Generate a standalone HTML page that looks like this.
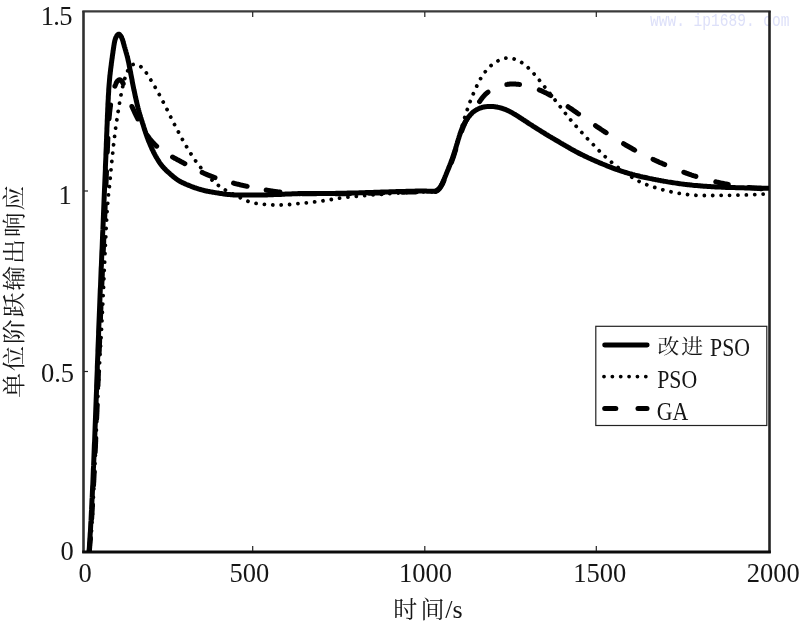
<!DOCTYPE html>
<html lang="zh">
<head>
<meta charset="utf-8">
<title>单位阶跃输出响应</title>
<style>
html,body{margin:0;padding:0;background:#fff;}
body{width:800px;height:623px;overflow:hidden;}
svg{display:block;}
text{font-family:"Liberation Serif","Noto Serif CJK SC",serif;fill:#161616;}
.cjk{font-family:"Liberation Serif","Noto Serif CJK SC",serif;font-weight:400;}
.wm{font-family:"Liberation Mono","Noto Sans CJK SC",monospace;fill:#dde0f9;}
</style>
</head>
<body>
<svg width="800" height="623" viewBox="0 0 800 623">
<rect x="0" y="0" width="800" height="623" fill="#ffffff"/>
<!-- watermark -->
<text class="wm" x="650" y="26.3" font-size="18.5" textLength="139.5" lengthAdjust="spacingAndGlyphs" xml:space="preserve">www. ip1689. com</text>
<!-- axes box -->
<g fill="none" stroke-linecap="butt">
<line x1="82.3" y1="11.4" x2="770.7" y2="11.4" stroke="#3a3a3a" stroke-width="2.4"/>
<line x1="83.5" y1="11" x2="83.5" y2="553" stroke="#303030" stroke-width="2.6"/>
<line x1="769.5" y1="11" x2="769.5" y2="553" stroke="#222" stroke-width="2.6"/>
<line x1="82.2" y1="552.1" x2="770.8" y2="552.1" stroke="#0c0c0c" stroke-width="3"/>
</g>
<!-- ticks -->
<g stroke="#222" stroke-width="1.2" fill="none">
<line x1="252.7" y1="546" x2="252.7" y2="551"/>
<line x1="424.8" y1="546" x2="424.8" y2="551"/>
<line x1="596.3" y1="546" x2="596.3" y2="551"/>
<line x1="252.7" y1="12" x2="252.7" y2="17"/>
<line x1="424.8" y1="12" x2="424.8" y2="17"/>
<line x1="596.3" y1="12" x2="596.3" y2="17"/>
<line x1="84" y1="191" x2="88" y2="191"/>
<line x1="84" y1="371.5" x2="88" y2="371.5"/>
</g>
<!-- tick labels -->
<g font-size="26.5">
<text x="72" y="25" text-anchor="end" letter-spacing="-0.6">1.5</text>
<text x="71.8" y="203.6" text-anchor="end">1</text>
<text x="74" y="381.5" text-anchor="end">0.5</text>
<text x="73.8" y="560.2" text-anchor="end">0</text>
<text x="85" y="582.2" text-anchor="middle">0</text>
<text x="249.4" y="582.2" text-anchor="middle">500</text>
<text x="425.6" y="582.2" text-anchor="middle">1000</text>
<text x="599.8" y="582.2" text-anchor="middle">1500</text>
<text x="773.2" y="582.4" text-anchor="middle">2000</text>
</g>
<!-- axis titles -->
<text class="cjk" x="393.2" y="618" font-size="24" letter-spacing="3.3">时间<tspan font-family="Liberation Serif" font-size="26" letter-spacing="0" dx="-2.6">/s</tspan></text>
<text class="cjk" transform="translate(21.9,397.8) rotate(-90) scale(1.04,0.945)" font-size="24" letter-spacing="1.75">单位阶跃输出响应</text>
<!-- curves -->
<clipPath id="plotclip"><rect x="84" y="12" width="685" height="539.5"/></clipPath>
<g fill="none" stroke="#000" stroke-linejoin="round" clip-path="url(#plotclip)">
<path d="M89.5,553.0 L89.7,551.6 L89.8,550.1 L90.0,548.6 L90.1,547.1 L90.3,545.5 L90.4,543.8 L90.6,542.1 L90.7,540.4 L90.9,538.6 L91.0,536.8 L91.2,534.9 L91.3,533.0 L91.5,531.1 L91.6,529.1 L91.7,527.1 L91.9,525.1 L92.0,523.0 L92.1,520.9 L92.3,518.7 L92.4,516.6 L92.5,514.3 L92.7,512.1 L92.8,509.8 L92.9,507.6 L93.0,505.2 L93.2,502.9 L93.3,500.5 L93.4,498.1 L93.5,495.7 L93.6,493.3 L93.8,490.9 L93.9,488.4 L94.0,485.9 L94.1,483.4 L94.2,480.9 L94.3,478.4 L94.5,475.8 L94.6,473.3 L94.7,470.7 L94.8,468.2 L94.9,465.6 L95.0,463.0 L95.1,460.4 L95.2,457.8 L95.4,455.2 L95.5,452.6 L95.6,450.0 L95.7,447.4 L95.8,444.8 L95.9,442.2 L96.0,439.5 L96.1,436.9 L96.2,434.3 L96.3,431.8 L96.4,429.2 L96.6,426.6 L96.7,424.0 L96.8,421.5 L96.9,418.9 L97.0,416.4 L97.1,413.9 L97.2,411.4 L97.3,408.9 L97.4,406.4 L97.5,403.9 L97.7,401.5 L97.8,399.1 L97.9,396.7 L98.0,394.3 L98.1,391.9 L98.2,389.6 L98.3,387.3 L98.5,385.0 L98.6,382.7 L98.7,380.5 L98.8,378.3 L98.9,376.0 L99.0,373.8 L99.2,371.6 L99.3,369.5 L99.4,367.3 L99.5,365.1 L99.6,363.0 L99.8,360.8 L99.9,358.7 L100.0,356.5 L100.1,354.3 L100.2,352.2 L100.4,350.0 L100.5,347.8 L100.6,345.6 L100.7,343.4 L100.9,341.2 L101.0,339.0 L101.1,336.7 L101.2,334.5 L101.4,332.2 L101.5,329.9 L101.6,327.5 L101.7,325.2 L101.9,322.8 L102.0,320.4 L102.1,317.9 L102.2,315.4 L102.4,312.9 L102.5,310.4 L102.6,307.8 L102.7,305.1 L102.9,302.5 L103.0,299.8 L103.1,297.0 L103.2,294.3 L103.4,291.5 L103.5,288.7 L103.6,285.9 L103.7,283.1 L103.8,280.3 L104.0,277.5 L104.1,274.7 L104.2,271.8 L104.3,269.0 L104.5,266.2 L104.6,263.4 L104.7,260.6 L104.8,257.9 L104.9,255.1 L105.1,252.4 L105.2,249.7 L105.3,247.0 L105.4,244.4 L105.5,241.8 L105.7,239.2 L105.8,236.7 L105.9,234.3 L106.0,231.8 L106.1,229.5 L106.2,227.2 L106.3,224.9 L106.5,222.7 L106.6,220.6 L106.7,218.5 L106.8,216.5 L106.9,214.6 L107.0,212.8 L107.1,211.0 L107.2,209.4 L107.4,207.8 L107.5,206.3 L107.6,204.8 L107.7,203.5 L107.8,202.1 L107.9,200.9 L108.0,199.7 L108.1,198.5 L108.2,197.3 L108.3,196.2 L108.4,195.1 L108.5,194.1 L108.7,193.0 L108.8,192.0 L108.9,190.9 L109.0,189.8 L109.1,188.7 L109.2,187.6 L109.4,186.5 L109.5,185.4 L109.6,184.2 L109.7,183.0 L109.8,181.7 L110.0,180.5 L110.1,179.2 L110.2,177.9 L110.4,176.6 L110.5,175.3 L110.6,173.9 L110.8,172.6 L110.9,171.2 L111.0,169.8 L111.2,168.5 L111.3,167.1 L111.4,165.7 L111.6,164.3 L111.7,162.9 L111.8,161.5 L112.0,160.2 L112.1,158.8 L112.3,157.4 L112.4,156.1 L112.5,154.7 L112.7,153.4 L112.8,152.0 L113.0,150.7 L113.1,149.3 L113.2,148.0 L113.4,146.6 L113.5,145.2 L113.7,143.9 L113.8,142.5 L114.0,141.1 L114.2,139.7 L114.3,138.3 L114.5,136.9 L114.7,135.5 L114.9,134.1 L115.1,132.6 L115.2,131.2 L115.4,129.7 L115.6,128.2 L115.9,126.7 L116.1,125.2 L116.3,123.7 L116.5,122.1 L116.7,120.6 L117.0,119.0 L117.2,117.5 L117.4,115.9 L117.7,114.4 L117.9,112.8 L118.2,111.3 L118.4,109.8 L118.7,108.2 L118.9,106.7 L119.2,105.2 L119.4,103.8 L119.7,102.3 L119.9,100.9 L120.2,99.5 L120.4,98.1 L120.7,96.7 L120.9,95.4 L121.2,94.1 L121.4,92.8 L121.7,91.6 L121.9,90.3 L122.2,89.2 L122.4,88.0 L122.7,86.8 L122.9,85.7 L123.2,84.6 L123.5,83.5 L123.7,82.4 L124.0,81.4 L124.3,80.3 L124.6,79.3 L124.9,78.3 L125.2,77.2 L125.6,76.2 L125.9,75.2 L126.3,74.2 L126.7,73.2 L127.1,72.2 L127.5,71.2 L127.9,70.3 L128.3,69.4 L128.8,68.5 L129.3,67.7 L129.8,67.0 L130.4,66.3 L130.9,65.8 L131.5,65.3 L132.2,64.9 L132.8,64.6 L133.5,64.4 L134.3,64.3 L135.0,64.3 L135.8,64.4 L136.6,64.5 L137.3,64.8 L138.1,65.1 L138.9,65.5 L139.6,65.9 L140.4,66.3 L141.0,66.8 L141.7,67.3 L142.3,67.9 L142.9,68.4 L143.4,69.0 L143.9,69.5 L144.4,70.1 L144.8,70.7 L145.3,71.2 L145.7,71.8 L146.1,72.4 L146.4,73.0 L146.8,73.6 L147.2,74.3 L147.6,74.9 L148.0,75.5 L148.4,76.1 L148.7,76.7 L149.1,77.3 L149.5,78.0 L149.9,78.6 L150.3,79.2 L150.7,79.8 L151.1,80.5 L151.5,81.1 L151.9,81.8 L152.3,82.4 L152.7,83.0 L153.1,83.7 L153.5,84.3 L153.8,85.0 L154.2,85.6 L154.6,86.2 L155.0,86.9 L155.3,87.5 L155.7,88.1 L156.0,88.7 L156.4,89.3 L156.7,89.9 L157.0,90.5 L157.4,91.0 L157.7,91.6 L158.0,92.3 L158.4,92.9 L158.8,93.6 L159.1,94.3 L159.5,95.0 L159.9,95.8 L160.4,96.6 L160.8,97.5 L161.3,98.4 L161.8,99.4 L162.3,100.3 L162.8,101.4 L163.4,102.4 L163.9,103.5 L164.5,104.6 L165.0,105.7 L165.6,106.8 L166.2,107.9 L166.8,109.1 L167.4,110.2 L167.9,111.4 L168.5,112.5 L169.1,113.7 L169.6,114.8 L170.2,115.9 L170.7,117.0 L171.3,118.1 L171.8,119.1 L172.3,120.2 L172.9,121.2 L173.4,122.3 L173.9,123.3 L174.4,124.3 L175.0,125.4 L175.5,126.4 L176.0,127.4 L176.6,128.5 L177.1,129.5 L177.6,130.5 L178.2,131.6 L178.8,132.7 L179.3,133.8 L179.9,134.9 L180.5,136.0 L181.1,137.1 L181.8,138.3 L182.4,139.4 L183.1,140.6 L183.7,141.8 L184.4,143.0 L185.1,144.2 L185.8,145.4 L186.5,146.6 L187.2,147.8 L187.9,149.0 L188.6,150.2 L189.4,151.4 L190.1,152.6 L190.9,153.8 L191.6,154.9 L192.4,156.1 L193.1,157.3 L193.9,158.4 L194.7,159.5 L195.4,160.6 L196.2,161.7 L197.0,162.8 L197.8,163.9 L198.6,164.9 L199.4,165.9 L200.2,166.9 L201.0,167.9 L201.7,168.9 L202.5,169.8 L203.3,170.8 L204.1,171.7 L204.9,172.6 L205.7,173.5 L206.5,174.3 L207.3,175.2 L208.0,176.0 L208.8,176.8 L209.6,177.6 L210.4,178.4 L211.1,179.1 L211.9,179.9 L212.7,180.6 L213.4,181.3 L214.2,182.0 L214.9,182.6 L215.7,183.3 L216.5,183.9 L217.2,184.6 L218.0,185.2 L218.8,185.7 L219.5,186.3 L220.3,186.9 L221.1,187.4 L221.9,187.9 L222.7,188.5 L223.5,189.0 L224.4,189.4 L225.2,189.9 L226.0,190.4 L226.9,190.8 L227.7,191.3 L228.6,191.7 L229.4,192.2 L230.3,192.6 L231.2,193.1 L232.1,193.5 L233.0,194.0 L233.9,194.4 L234.8,194.9 L235.7,195.3 L236.6,195.8 L237.5,196.3 L238.4,196.8 L239.3,197.3 L240.2,197.7 L241.2,198.2 L242.1,198.7 L243.0,199.1 L244.0,199.6 L244.9,200.0 L245.9,200.4 L246.8,200.8 L247.8,201.2 L248.7,201.6 L249.7,201.9 L250.7,202.2 L251.6,202.5 L252.6,202.7 L253.6,203.0 L254.5,203.2 L255.5,203.4 L256.5,203.5 L257.5,203.7 L258.5,203.8 L259.4,204.0 L260.4,204.1 L261.4,204.2 L262.4,204.3 L263.3,204.4 L264.3,204.4 L265.3,204.5 L266.2,204.6 L267.2,204.7 L268.2,204.7 L269.1,204.8 L270.1,204.8 L271.1,204.9 L272.0,204.9 L273.0,205.0 L274.0,205.0 L275.0,205.0 L276.0,205.0 L277.0,205.0 L278.0,205.0 L279.0,205.0 L280.0,205.0 L281.0,205.0 L282.1,204.9 L283.1,204.9 L284.2,204.8 L285.3,204.8 L286.4,204.7 L287.5,204.6 L288.6,204.6 L289.7,204.5 L290.9,204.4 L292.0,204.3 L293.2,204.2 L294.3,204.1 L295.5,203.9 L296.7,203.8 L298.0,203.7 L299.2,203.6 L300.4,203.5 L301.7,203.3 L302.9,203.2 L304.2,203.1 L305.5,202.9 L306.8,202.8 L308.1,202.6 L309.4,202.5 L310.7,202.3 L312.0,202.2 L313.3,202.0 L314.6,201.9 L315.8,201.7 L317.1,201.6 L318.4,201.4 L319.6,201.3 L320.9,201.1 L322.1,200.9 L323.3,200.7 L324.5,200.6 L325.6,200.4 L326.8,200.2 L327.9,200.1 L329.0,199.9 L330.1,199.7 L331.2,199.5 L332.2,199.4 L333.2,199.2 L334.3,199.0 L335.3,198.8 L336.3,198.7 L337.3,198.5 L338.3,198.4 L339.3,198.2 L340.2,198.1 L341.2,197.9 L342.2,197.8 L343.1,197.6 L344.1,197.5 L345.1,197.4 L346.0,197.3 L347.0,197.2 L348.0,197.1 L349.0,197.0 L350.0,196.9 L351.1,196.8 L352.2,196.7 L353.3,196.6 L354.4,196.5 L355.5,196.4 L356.7,196.3 L357.9,196.2 L359.2,196.1 L360.5,196.0 L361.9,195.8 L363.3,195.7 L364.7,195.6 L366.1,195.5 L367.6,195.4 L369.2,195.3 L370.7,195.1 L372.3,195.0 L373.9,194.9 L375.5,194.8 L377.2,194.6 L378.8,194.5 L380.5,194.4 L382.2,194.2 L383.9,194.1 L385.6,194.0 L387.3,193.9 L389.0,193.7 L390.6,193.6 L392.3,193.5 L394.0,193.4 L395.7,193.3 L397.4,193.2 L399.0,193.1 L400.7,193.0 L402.3,192.9 L403.9,192.8 L405.5,192.7 L407.0,192.6 L408.5,192.5 L410.0,192.4 L411.5,192.3 L413.0,192.3 L414.4,192.2 L415.8,192.1 L417.1,192.1 L418.4,192.0 L419.7,192.0 L421.0,191.9 L422.2,191.9 L423.3,191.9 L424.4,191.8 L425.5,191.8 L426.6,191.8 L427.5,191.8 L428.5,191.8 L429.4,191.8 L430.2,191.8 L431.0,191.8 L431.8,191.8 L432.5,191.7 L433.2,191.7 L433.9,191.6 L434.5,191.5 L435.1,191.3 L435.6,191.1 L436.2,190.9 L436.7,190.6 L437.2,190.3 L437.7,189.9 L438.1,189.5 L438.6,189.1 L439.0,188.6 L439.4,188.1 L439.9,187.5 L440.3,186.9 L440.6,186.3 L441.0,185.6 L441.4,184.9 L441.8,184.2 L442.2,183.4 L442.5,182.7 L442.9,181.9 L443.3,181.0 L443.6,180.2 L444.0,179.3 L444.4,178.5 L444.8,177.6 L445.1,176.7 L445.5,175.7 L445.9,174.8 L446.3,173.9 L446.7,172.9 L447.1,172.0 L447.5,171.0 L447.9,170.0 L448.3,169.0 L448.7,168.0 L449.1,167.1 L449.5,166.1 L449.9,165.1 L450.2,164.0 L450.6,163.0 L451.0,162.0 L451.4,161.0 L451.7,160.0 L452.1,159.0 L452.5,158.0 L452.8,157.0 L453.1,156.0 L453.5,155.0 L453.8,154.0 L454.1,153.0 L454.4,151.9 L454.7,150.9 L455.0,149.9 L455.3,148.9 L455.6,147.9 L455.9,146.9 L456.2,145.9 L456.5,144.9 L456.8,143.9 L457.1,142.9 L457.4,141.9 L457.7,140.9 L458.0,139.9 L458.3,138.8 L458.6,137.8 L458.9,136.8 L459.2,135.8 L459.5,134.8 L459.8,133.7 L460.2,132.7 L460.5,131.6 L460.8,130.6 L461.1,129.5 L461.4,128.5 L461.8,127.4 L462.1,126.4 L462.4,125.3 L462.7,124.2 L463.1,123.1 L463.4,122.0 L463.7,120.9 L464.1,119.8 L464.4,118.7 L464.7,117.6 L465.1,116.5 L465.4,115.4 L465.8,114.3 L466.1,113.2 L466.4,112.1 L466.8,111.1 L467.1,110.0 L467.5,109.0 L467.8,107.9 L468.2,106.9 L468.5,105.9 L468.9,104.9 L469.3,103.9 L469.6,102.9 L470.0,101.9 L470.4,101.0 L470.7,100.0 L471.1,99.1 L471.5,98.1 L471.9,97.2 L472.3,96.2 L472.7,95.3 L473.1,94.3 L473.5,93.3 L474.0,92.3 L474.4,91.3 L474.9,90.3 L475.3,89.2 L475.8,88.2 L476.3,87.1 L476.8,86.0 L477.3,84.9 L477.9,83.8 L478.4,82.7 L479.0,81.6 L479.6,80.5 L480.2,79.4 L480.8,78.2 L481.5,77.1 L482.2,76.0 L482.9,75.0 L483.6,73.9 L484.4,72.8 L485.2,71.8 L486.0,70.8 L486.8,69.8 L487.7,68.8 L488.6,67.8 L489.5,66.9 L490.5,66.0 L491.5,65.2 L492.5,64.3 L493.6,63.6 L494.6,62.8 L495.7,62.1 L496.8,61.5 L497.9,60.9 L499.0,60.3 L500.1,59.8 L501.2,59.4 L502.3,59.0 L503.4,58.6 L504.6,58.4 L505.7,58.2 L506.8,58.0 L507.9,58.0 L509.0,58.0 L510.1,58.1 L511.2,58.2 L512.3,58.4 L513.4,58.6 L514.4,59.0 L515.5,59.3 L516.5,59.7 L517.5,60.2 L518.5,60.7 L519.5,61.2 L520.5,61.8 L521.5,62.4 L522.4,63.1 L523.4,63.8 L524.3,64.5 L525.2,65.2 L526.1,65.9 L527.0,66.7 L527.9,67.5 L528.7,68.3 L529.6,69.1 L530.4,69.9 L531.2,70.8 L532.1,71.7 L532.9,72.5 L533.7,73.4 L534.4,74.3 L535.2,75.2 L536.0,76.1 L536.8,77.1 L537.5,78.0 L538.3,78.9 L539.1,79.9 L539.8,80.8 L540.6,81.7 L541.3,82.7 L542.1,83.6 L542.9,84.6 L543.6,85.5 L544.4,86.5 L545.1,87.4 L545.9,88.4 L546.7,89.3 L547.4,90.3 L548.2,91.3 L549.0,92.3 L549.8,93.3 L550.5,94.3 L551.3,95.3 L552.1,96.3 L552.9,97.3 L553.7,98.3 L554.5,99.3 L555.3,100.4 L556.1,101.4 L556.9,102.5 L557.8,103.6 L558.6,104.6 L559.4,105.7 L560.3,106.8 L561.1,107.9 L562.0,109.0 L562.9,110.2 L563.7,111.3 L564.6,112.4 L565.5,113.5 L566.4,114.7 L567.3,115.8 L568.3,117.0 L569.2,118.1 L570.1,119.3 L571.1,120.4 L572.1,121.6 L573.0,122.7 L574.0,123.9 L575.0,125.0 L576.1,126.2 L577.1,127.4 L578.1,128.5 L579.2,129.7 L580.2,130.8 L581.3,132.0 L582.3,133.1 L583.4,134.3 L584.4,135.4 L585.4,136.5 L586.5,137.6 L587.5,138.7 L588.5,139.8 L589.6,140.8 L590.5,141.8 L591.5,142.9 L592.5,143.9 L593.4,144.8 L594.4,145.8 L595.3,146.7 L596.2,147.6 L597.0,148.5 L597.8,149.3 L598.6,150.2 L599.4,151.0 L600.2,151.7 L600.9,152.5 L601.6,153.2 L602.4,153.9 L603.1,154.7 L603.8,155.4 L604.5,156.1 L605.3,156.7 L606.0,157.4 L606.8,158.1 L607.5,158.8 L608.3,159.5 L609.1,160.3 L610.0,161.0 L610.9,161.7 L611.8,162.5 L612.7,163.3 L613.7,164.1 L614.7,164.9 L615.7,165.6 L616.7,166.4 L617.8,167.2 L618.8,168.0 L619.9,168.8 L620.9,169.6 L622.0,170.4 L623.1,171.2 L624.1,172.0 L625.2,172.7 L626.2,173.4 L627.3,174.2 L628.3,174.8 L629.3,175.5 L630.3,176.2 L631.2,176.8 L632.2,177.4 L633.1,178.0 L634.0,178.5 L634.9,179.0 L635.8,179.6 L636.7,180.1 L637.6,180.5 L638.4,181.0 L639.3,181.5 L640.2,181.9 L641.2,182.3 L642.1,182.8 L643.0,183.2 L644.0,183.6 L645.0,184.0 L646.0,184.4 L647.1,184.8 L648.1,185.2 L649.2,185.6 L650.3,186.0 L651.5,186.4 L652.6,186.8 L653.8,187.2 L655.0,187.5 L656.1,187.9 L657.4,188.3 L658.6,188.6 L659.8,189.0 L661.0,189.3 L662.3,189.7 L663.5,190.0 L664.8,190.3 L666.0,190.6 L667.3,191.0 L668.6,191.2 L669.8,191.5 L671.1,191.8 L672.3,192.1 L673.6,192.3 L674.9,192.6 L676.1,192.8 L677.4,193.1 L678.6,193.3 L679.9,193.5 L681.1,193.7 L682.4,193.9 L683.7,194.0 L684.9,194.2 L686.2,194.4 L687.4,194.5 L688.7,194.7 L690.0,194.8 L691.2,194.9 L692.5,195.0 L693.8,195.1 L695.0,195.2 L696.3,195.3 L697.5,195.3 L698.8,195.4 L700.1,195.4 L701.3,195.5 L702.6,195.5 L703.9,195.5 L705.1,195.5 L706.4,195.5 L707.7,195.6 L709.0,195.6 L710.2,195.6 L711.5,195.6 L712.8,195.5 L714.0,195.5 L715.3,195.5 L716.6,195.5 L717.8,195.5 L719.1,195.5 L720.4,195.5 L721.6,195.4 L722.9,195.4 L724.2,195.4 L725.5,195.4 L726.7,195.4 L728.0,195.3 L729.3,195.3 L730.5,195.3 L731.8,195.3 L733.1,195.2 L734.3,195.2 L735.6,195.2 L736.9,195.2 L738.1,195.1 L739.4,195.1 L740.7,195.1 L741.9,195.0 L743.2,195.0 L744.4,194.9 L745.7,194.9 L747.0,194.9 L748.2,194.8 L749.5,194.8 L750.7,194.7 L752.0,194.7 L753.3,194.6 L754.5,194.6 L755.8,194.5 L757.0,194.5 L758.3,194.4 L759.5,194.4 L760.8,194.3 L762.0,194.3 L763.3,194.2 L764.5,194.1 L765.8,194.1 L767.0,194.0" stroke-width="3.8" stroke-linecap="round" stroke-dasharray="0.01 8.4" stroke-dashoffset="3"/>
<path d="M124.0,86.0 L124.0,85.8 L123.9,85.7 L123.9,85.5 L123.8,85.3 L123.8,85.1 L123.7,84.9 L123.6,84.7 L123.6,84.5 L123.5,84.3 L123.4,84.1 L123.3,83.9 L123.2,83.7 L123.1,83.4 L123.0,83.2 L122.9,83.0 L122.7,82.8 L122.6,82.6 L122.5,82.3 L122.4,82.1 L122.2,81.9 L122.1,81.7 L122.0,81.5 L121.8,81.3 L121.7,81.1 L121.5,81.0 L121.4,80.8 L121.2,80.6 L121.1,80.5 L120.9,80.4 L120.8,80.2 L120.6,80.1 L120.4,80.0 L120.3,80.0 L120.1,79.9 L119.9,79.8 L119.8,79.8 L119.6,79.8 L119.4,79.8 L119.3,79.8 L119.1,79.9 L118.9,79.9 L118.8,80.0 L118.6,80.1 L118.4,80.2 L118.3,80.3 L118.1,80.5 L118.0,80.6 L117.8,80.7 L117.6,80.9 L117.5,81.1 L117.3,81.3 L117.2,81.4 L117.1,81.6 L116.9,81.8 L116.8,82.0 L116.6,82.2 L116.5,82.5 L116.4,82.7 L116.3,82.9 L116.1,83.1 L116.0,83.3 L115.9,83.6 L115.8,83.8 L115.7,84.1 L115.6,84.3 L115.5,84.6 L115.4,84.8 L115.3,85.1 L115.2,85.3 L115.1,85.6 L115.0,85.9 L114.9,86.2 L114.8,86.4 L114.7,86.7 L114.6,87.0 L114.5,87.3 L114.4,87.7 L114.4,88.0 L114.3,88.3 L114.2,88.6 L114.1,88.9 L114.0,89.3 L113.9,89.6 L113.8,90.0 L113.7,90.3 L113.6,90.7 L113.5,91.1 L113.4,91.4 L113.3,91.8 L113.2,92.2 L113.1,92.6 L113.0,93.0 L112.9,93.4 L112.8,93.8 L112.7,94.2 L112.6,94.6 L112.5,95.0 L112.4,95.4 L112.3,95.9 L112.2,96.3 L112.1,96.7 L112.0,97.2 L111.9,97.6 L111.8,98.1 L111.8,98.5 L111.7,99.0 L111.6,99.5 L111.5,99.9 L111.4,100.4 L111.3,100.9 L111.2,101.4 L111.1,101.9 L111.0,102.3 L110.9,102.8 L110.9,103.3 L110.8,103.8 L110.7,104.4 L110.6,104.9 L110.5,105.4 L110.5,105.9 L110.4,106.4 L110.3,107.0 L110.2,107.5 L110.2,108.0 L110.1,108.6 L110.0,109.1 L110.0,109.7 L109.9,110.2 L109.8,110.8 L109.8,111.3 L109.7,111.9 L109.6,112.5 L109.6,113.1 L109.5,113.6 L109.5,114.2 L109.4,114.8 L109.4,115.4 L109.3,116.0 L109.2,116.6 L109.2,117.2 L109.1,117.8 L109.1,118.4 L109.0,119.0 L109.0,119.6 L108.9,120.3 L108.9,120.9 L108.9,121.5 L108.8,122.1 L108.8,122.8 L108.7,123.4 L108.7,124.1 L108.6,124.7 L108.6,125.4 L108.5,126.0 L108.5,126.7 L108.5,127.4 L108.4,128.0 L108.4,128.7 L108.3,129.4 L108.3,130.1 L108.3,130.8 L108.2,131.5 L108.2,132.2 L108.2,132.9 L108.1,133.6 L108.1,134.3 L108.0,135.0 L108.0,135.7 L108.0,136.4 L107.9,137.1 L107.9,137.9 L107.9,138.6 L107.8,139.3 L107.8,140.1 L107.8,140.8 L107.7,141.6 L107.7,142.3 L107.7,143.1 L107.6,143.8 L107.6,144.6 L107.6,145.4 L107.5,146.2 L107.5,146.9 L107.5,147.7 L107.4,148.5 L107.4,149.3 L107.4,150.1 L107.3,150.9 L107.3,151.7 L107.2,152.5 L107.2,153.3 L107.2,154.1 L107.1,154.9 L107.1,155.7 L107.1,156.6 L107.0,157.4 L107.0,158.2 L107.0,159.1 L106.9,159.9 L106.9,160.8 L106.9,161.6 L106.8,162.5 L106.8,163.3 L106.8,164.2 L106.7,165.0 L106.7,165.9 L106.7,166.8 L106.6,167.6 L106.6,168.5 L106.6,169.4 L106.5,170.3 L106.5,171.2 L106.5,172.1 L106.4,173.0 L106.4,173.9 L106.4,174.8 L106.3,175.7 L106.3,176.6 L106.3,177.5 L106.2,178.4 L106.2,179.3 L106.2,180.2 L106.1,181.2 L106.1,182.1 L106.0,183.0 L106.0,184.0 L106.0,184.9 L105.9,185.9 L105.9,186.8 L105.9,187.8 L105.8,188.7 L105.8,189.7 L105.8,190.6 L105.7,191.6 L105.7,192.6 L105.6,193.5 L105.6,194.5 L105.6,195.5 L105.5,196.5 L105.5,197.5 L105.5,198.4 L105.4,199.4 L105.4,200.4 L105.3,201.4 L105.3,202.4 L105.3,203.4 L105.2,204.4 L105.2,205.4 L105.1,206.4 L105.1,207.5 L105.1,208.5 L105.0,209.5 L105.0,210.5 L104.9,211.6 L104.9,212.6 L104.9,213.6 L104.8,214.7 L104.8,215.7 L104.7,216.7 L104.7,217.8 L104.6,218.8 L104.6,219.9 L104.6,220.9 L104.5,222.0 L104.5,223.0 L104.4,224.1 L104.4,225.2 L104.3,226.2 L104.3,227.3 L104.2,228.3 L104.2,229.4 L104.2,230.5 L104.1,231.6 L104.1,232.6 L104.0,233.7 L104.0,234.8 L103.9,235.9 L103.9,236.9 L103.8,238.0 L103.8,239.1 L103.7,240.2 L103.7,241.3 L103.7,242.3 L103.6,243.4 L103.6,244.5 L103.5,245.6 L103.5,246.7 L103.4,247.8 L103.4,248.9 L103.3,250.0 L103.3,251.0 L103.2,252.1 L103.2,253.2 L103.1,254.3 L103.1,255.4 L103.0,256.5 L103.0,257.6 L103.0,258.7 L102.9,259.8 L102.9,260.9 L102.8,262.0 L102.8,263.0 L102.7,264.1 L102.7,265.2 L102.6,266.3 L102.6,267.4 L102.5,268.5 L102.5,269.6 L102.4,270.7 L102.4,271.7 L102.3,272.8 L102.3,273.9 L102.3,275.0 L102.2,276.1 L102.2,277.1 L102.1,278.2 L102.1,279.3 L102.0,280.4 L102.0,281.4 L101.9,282.5 L101.9,283.6 L101.8,284.7 L101.8,285.7 L101.8,286.8 L101.7,287.8 L101.7,288.9 L101.6,290.0 L101.6,291.0 L101.5,292.1 L101.5,293.1 L101.4,294.2 L101.4,295.2 L101.4,296.3 L101.3,297.3 L101.3,298.3 L101.2,299.4 L101.2,300.4 L101.1,301.4 L101.1,302.5 L101.1,303.5 L101.0,304.5 L101.0,305.5 L100.9,306.5 L100.9,307.6 L100.9,308.6 L100.8,309.6 L100.8,310.6 L100.7,311.6 L100.7,312.6 L100.7,313.6 L100.6,314.5 L100.6,315.5 L100.5,316.5 L100.5,317.5 L100.5,318.5 L100.4,319.4 L100.4,320.4 L100.4,321.4 L100.3,322.3 L100.3,323.3 L100.2,324.3 L100.2,325.2 L100.2,326.2 L100.1,327.1 L100.1,328.1 L100.1,329.0 L100.0,330.0 L100.0,330.9 L100.0,331.9 L99.9,332.8 L99.9,333.8 L99.9,334.7 L99.8,335.6 L99.8,336.6 L99.7,337.5 L99.7,338.4 L99.7,339.4 L99.6,340.3 L99.6,341.2 L99.6,342.2 L99.5,343.1 L99.5,344.0 L99.5,345.0 L99.4,345.9 L99.4,346.8 L99.4,347.7 L99.3,348.7 L99.3,349.6 L99.3,350.5 L99.2,351.4 L99.2,352.4 L99.2,353.3 L99.1,354.2 L99.1,355.2 L99.1,356.1 L99.0,357.0 L99.0,358.0 L99.0,358.9 L98.9,359.8 L98.9,360.7 L98.9,361.7 L98.8,362.6 L98.8,363.6 L98.8,364.5 L98.7,365.4 L98.7,366.4 L98.7,367.3 L98.6,368.2 L98.6,369.2 L98.6,370.1 L98.5,371.1 L98.5,372.0 L98.4,373.0 L98.4,373.9 L98.4,374.9 L98.3,375.9 L98.3,376.8 L98.3,377.8 L98.2,378.7 L98.2,379.7 L98.2,380.7 L98.1,381.7 L98.1,382.6 L98.0,383.6 L98.0,384.6 L98.0,385.6 L97.9,386.6 L97.9,387.6 L97.9,388.6 L97.8,389.6 L97.8,390.6 L97.7,391.6 L97.7,392.6 L97.7,393.6 L97.6,394.6 L97.6,395.6 L97.5,396.6 L97.5,397.7 L97.5,398.7 L97.4,399.7 L97.4,400.8 L97.3,401.8 L97.3,402.8 L97.3,403.9 L97.2,404.9 L97.2,406.0 L97.1,407.0 L97.1,408.1 L97.0,409.1 L97.0,410.2 L97.0,411.2 L96.9,412.3 L96.9,413.4 L96.8,414.4 L96.8,415.5 L96.7,416.6 L96.7,417.6 L96.6,418.7 L96.6,419.8 L96.5,420.8 L96.5,421.9 L96.5,423.0 L96.4,424.1 L96.4,425.2 L96.3,426.2 L96.3,427.3 L96.2,428.4 L96.2,429.5 L96.1,430.6 L96.1,431.7 L96.0,432.8 L96.0,433.8 L95.9,434.9 L95.9,436.0 L95.8,437.1 L95.8,438.2 L95.7,439.3 L95.7,440.4 L95.7,441.5 L95.6,442.6 L95.6,443.6 L95.5,444.7 L95.5,445.8 L95.4,446.9 L95.4,448.0 L95.3,449.1 L95.3,450.2 L95.2,451.3 L95.2,452.4 L95.1,453.5 L95.1,454.5 L95.0,455.6 L95.0,456.7 L94.9,457.8 L94.9,458.9 L94.8,460.0 L94.7,461.0 L94.7,462.1 L94.6,463.2 L94.6,464.3 L94.5,465.4 L94.5,466.4 L94.4,467.5 L94.4,468.6 L94.3,469.7 L94.3,470.7 L94.2,471.8 L94.2,472.9 L94.1,473.9 L94.1,475.0 L94.0,476.0 L94.0,477.1 L93.9,478.2 L93.9,479.2 L93.8,480.3 L93.8,481.3 L93.7,482.4 L93.6,483.4 L93.6,484.4 L93.5,485.5 L93.5,486.5 L93.4,487.5 L93.4,488.6 L93.3,489.6 L93.3,490.6 L93.2,491.6 L93.2,492.7 L93.1,493.7 L93.0,494.7 L93.0,495.7 L92.9,496.7 L92.9,497.7 L92.8,498.7 L92.8,499.7 L92.7,500.7 L92.7,501.7 L92.6,502.6 L92.6,503.6 L92.5,504.6 L92.4,505.6 L92.4,506.5 L92.3,507.5 L92.3,508.4 L92.2,509.4 L92.2,510.3 L92.1,511.3 L92.1,512.2 L92.0,513.2 L92.0,514.1 L91.9,515.0 L91.8,515.9 L91.8,516.9 L91.7,517.8 L91.7,518.7 L91.6,519.6 L91.6,520.5 L91.5,521.4 L91.5,522.2 L91.4,523.1 L91.3,524.0 L91.3,524.9 L91.2,525.7 L91.2,526.6 L91.1,527.4 L91.1,528.3 L91.0,529.1 L91.0,529.9 L90.9,530.8 L90.8,531.6 L90.8,532.4 L90.7,533.2 L90.7,534.0 L90.6,534.8 L90.6,535.6 L90.5,536.4 L90.5,537.2 L90.4,537.9 L90.3,538.7 L90.3,539.4 L90.2,540.2 L90.2,540.9 L90.1,541.7 L90.1,542.4 L90.0,543.1 L90.0,543.8 L89.9,544.5 L89.9,545.2 L89.8,545.9 L89.7,546.6 L89.7,547.3 L89.6,547.9 L89.6,548.6 L89.5,549.3 L89.5,549.9 L89.4,550.5 L89.4,551.2 L89.3,551.8 L89.3,552.4 L89.2,553.0" stroke-width="5.0" stroke-linecap="round" stroke-dasharray="14.00 19.40" stroke-dashoffset="30.90"/>
<path d="M126.0,92.0 L126.1,92.3 L126.3,92.7 L126.4,93.0 L126.5,93.3 L126.7,93.7 L126.8,94.0 L126.9,94.3 L127.0,94.6 L127.1,94.9 L127.3,95.2 L127.4,95.4 L127.5,95.7 L127.6,96.0 L127.7,96.3 L127.8,96.5 L127.9,96.8 L128.0,97.0 L128.1,97.3 L128.2,97.5 L128.3,97.7 L128.4,98.0 L128.5,98.2 L128.6,98.4 L128.6,98.7 L128.7,98.9 L128.8,99.1 L128.9,99.3 L129.0,99.5 L129.1,99.7 L129.2,99.9 L129.2,100.2 L129.3,100.4 L129.4,100.6 L129.5,100.8 L129.6,101.0 L129.7,101.2 L129.7,101.4 L129.8,101.5 L129.9,101.7 L130.0,101.9 L130.1,102.1 L130.1,102.3 L130.2,102.5 L130.3,102.7 L130.4,102.9 L130.5,103.1 L130.5,103.3 L130.6,103.5 L130.7,103.7 L130.8,103.9 L130.9,104.1 L131.0,104.3 L131.1,104.5 L131.2,104.7 L131.2,104.9 L131.3,105.1 L131.4,105.3 L131.5,105.6 L131.6,105.8 L131.7,106.0 L131.8,106.2 L131.9,106.5 L132.0,106.7 L132.1,106.9 L132.2,107.2 L132.4,107.4 L132.5,107.7 L132.6,107.9 L132.7,108.2 L132.8,108.4 L132.9,108.7 L133.1,109.0 L133.2,109.2 L133.3,109.5 L133.5,109.8 L133.6,110.1 L133.7,110.4 L133.9,110.7 L134.0,111.0 L134.2,111.4 L134.3,111.7 L134.5,112.0 L134.6,112.4 L134.8,112.7 L135.0,113.1 L135.1,113.4 L135.3,113.8 L135.5,114.1 L135.6,114.5 L135.8,114.9 L136.0,115.3 L136.2,115.7 L136.4,116.1 L136.6,116.4 L136.8,116.8 L137.0,117.3 L137.2,117.7 L137.4,118.1 L137.6,118.5 L137.8,118.9 L138.0,119.3 L138.2,119.8 L138.4,120.2 L138.6,120.6 L138.9,121.1 L139.1,121.5 L139.3,121.9 L139.5,122.4 L139.8,122.8 L140.0,123.3 L140.2,123.7 L140.5,124.1 L140.7,124.6 L141.0,125.0 L141.2,125.5 L141.5,126.0 L141.7,126.4 L142.0,126.9 L142.2,127.3 L142.5,127.8 L142.8,128.2 L143.0,128.7 L143.3,129.1 L143.6,129.6 L143.8,130.0 L144.1,130.5 L144.4,130.9 L144.7,131.4 L145.0,131.8 L145.2,132.3 L145.5,132.7 L145.8,133.2 L146.1,133.6 L146.4,134.1 L146.7,134.5 L147.0,134.9 L147.3,135.4 L147.6,135.8 L147.9,136.2 L148.2,136.7 L148.5,137.1 L148.8,137.5 L149.1,137.9 L149.4,138.3 L149.7,138.7 L150.1,139.2 L150.4,139.6 L150.7,140.0 L151.0,140.3 L151.3,140.7 L151.7,141.1 L152.0,141.5 L152.3,141.9 L152.7,142.2 L153.0,142.6 L153.3,143.0 L153.7,143.3 L154.0,143.7 L154.3,144.0 L154.7,144.4 L155.0,144.7 L155.4,145.0 L155.7,145.4 L156.1,145.7 L156.4,146.0 L156.8,146.3 L157.1,146.6 L157.5,146.9 L157.8,147.2 L158.2,147.5 L158.5,147.8 L158.9,148.1 L159.2,148.4 L159.6,148.7 L160.0,149.0 L160.3,149.3 L160.7,149.6 L161.1,149.8 L161.4,150.1 L161.8,150.4 L162.2,150.6 L162.5,150.9 L162.9,151.2 L163.3,151.4 L163.7,151.7 L164.0,151.9 L164.4,152.2 L164.8,152.4 L165.2,152.7 L165.6,152.9 L165.9,153.2 L166.3,153.4 L166.7,153.6 L167.1,153.9 L167.5,154.1 L167.9,154.4 L168.3,154.6 L168.7,154.8 L169.0,155.0 L169.4,155.3 L169.8,155.5 L170.2,155.7 L170.6,156.0 L171.0,156.2 L171.4,156.4 L171.8,156.6 L172.2,156.8 L172.6,157.1 L173.0,157.3 L173.4,157.5 L173.8,157.7 L174.2,157.9 L174.6,158.2 L175.0,158.4 L175.4,158.6 L175.8,158.8 L176.2,159.0 L176.6,159.3 L177.0,159.5 L177.4,159.7 L177.8,159.9 L178.2,160.1 L178.6,160.3 L179.0,160.6 L179.5,160.8 L179.9,161.0 L180.3,161.2 L180.7,161.5 L181.1,161.7 L181.5,161.9 L181.9,162.1 L182.3,162.3 L182.7,162.6 L183.2,162.8 L183.6,163.0 L184.0,163.2 L184.4,163.5 L184.8,163.7 L185.2,163.9 L185.6,164.1 L186.1,164.3 L186.5,164.6 L186.9,164.8 L187.3,165.0 L187.7,165.2 L188.1,165.5 L188.6,165.7 L189.0,165.9 L189.4,166.1 L189.8,166.3 L190.2,166.6 L190.7,166.8 L191.1,167.0 L191.5,167.2 L191.9,167.4 L192.3,167.7 L192.8,167.9 L193.2,168.1 L193.6,168.3 L194.0,168.5 L194.5,168.7 L194.9,168.9 L195.3,169.2 L195.7,169.4 L196.2,169.6 L196.6,169.8 L197.0,170.0 L197.4,170.2 L197.9,170.4 L198.3,170.6 L198.7,170.8 L199.1,171.0 L199.6,171.2 L200.0,171.4 L200.4,171.7 L200.9,171.9 L201.3,172.1 L201.7,172.3 L202.1,172.4 L202.6,172.6 L203.0,172.8 L203.4,173.0 L203.9,173.2 L204.3,173.4 L204.7,173.6 L205.2,173.8 L205.6,174.0 L206.0,174.2 L206.4,174.4 L206.9,174.5 L207.3,174.7 L207.7,174.9 L208.2,175.1 L208.6,175.2 L209.0,175.4 L209.5,175.6 L209.9,175.8 L210.3,175.9 L210.8,176.1 L211.2,176.3 L211.6,176.4 L212.1,176.6 L212.5,176.8 L212.9,176.9 L213.4,177.1 L213.8,177.2 L214.3,177.4 L214.7,177.6 L215.1,177.7 L215.6,177.9 L216.0,178.0 L216.4,178.2 L216.9,178.3 L217.3,178.5 L217.8,178.6 L218.2,178.8 L218.6,178.9 L219.1,179.0 L219.5,179.2 L219.9,179.3 L220.4,179.5 L220.8,179.6 L221.3,179.7 L221.7,179.9 L222.1,180.0 L222.6,180.1 L223.0,180.3 L223.5,180.4 L223.9,180.5 L224.4,180.7 L224.8,180.8 L225.2,180.9 L225.7,181.1 L226.1,181.2 L226.6,181.3 L227.0,181.4 L227.5,181.6 L227.9,181.7 L228.4,181.8 L228.8,181.9 L229.3,182.0 L229.7,182.2 L230.2,182.3 L230.6,182.4 L231.0,182.5 L231.5,182.6 L231.9,182.8 L232.4,182.9 L232.8,183.0 L233.3,183.1 L233.7,183.2 L234.2,183.3 L234.7,183.4 L235.1,183.6 L235.6,183.7 L236.0,183.8 L236.5,183.9 L236.9,184.0 L237.4,184.1 L237.8,184.2 L238.3,184.3 L238.7,184.4 L239.2,184.5 L239.7,184.7 L240.1,184.8 L240.6,184.9 L241.0,185.0 L241.5,185.1 L242.0,185.2 L242.4,185.3 L242.9,185.4 L243.3,185.5 L243.8,185.6 L244.3,185.7 L244.7,185.8 L245.2,185.9 L245.6,186.0 L246.1,186.1 L246.6,186.2 L247.0,186.3 L247.5,186.4 L248.0,186.5 L248.4,186.6 L248.9,186.7 L249.4,186.8 L249.8,186.9 L250.3,187.0 L250.8,187.1 L251.2,187.2 L251.7,187.3 L252.2,187.4 L252.6,187.5 L253.1,187.6 L253.6,187.7 L254.0,187.8 L254.5,187.9 L255.0,188.0 L255.4,188.1 L255.9,188.2 L256.3,188.3 L256.8,188.4 L257.3,188.4 L257.7,188.5 L258.2,188.6 L258.7,188.7 L259.1,188.8 L259.6,188.9 L260.1,189.0 L260.5,189.1 L261.0,189.1 L261.5,189.2 L261.9,189.3 L262.4,189.4 L262.9,189.5 L263.3,189.6 L263.8,189.6 L264.3,189.7 L264.7,189.8 L265.2,189.9 L265.6,190.0 L266.1,190.0 L266.6,190.1 L267.0,190.2 L267.5,190.3 L268.0,190.4 L268.4,190.4 L268.9,190.5 L269.3,190.6 L269.8,190.7 L270.3,190.7 L270.7,190.8 L271.2,190.9 L271.6,190.9 L272.1,191.0 L272.5,191.1 L273.0,191.2 L273.5,191.2 L273.9,191.3 L274.4,191.4 L274.8,191.4 L275.3,191.5 L275.7,191.5 L276.2,191.6 L276.6,191.7 L277.1,191.7 L277.5,191.8 L278.0,191.9 L278.4,191.9 L278.9,192.0 L279.3,192.0 L279.8,192.1 L280.2,192.1 L280.6,192.2 L281.1,192.3 L281.5,192.3 L282.0,192.4 L282.4,192.4 L282.9,192.5 L283.3,192.5 L283.7,192.6 L284.2,192.6 L284.6,192.7 L285.0,192.7 L285.5,192.8 L285.9,192.8 L286.3,192.8 L286.8,192.9 L287.2,192.9 L287.6,193.0 L288.1,193.0 L288.5,193.1 L288.9,193.1 L289.4,193.1 L289.8,193.2 L290.2,193.2 L290.6,193.2 L291.0,193.3 L291.5,193.3 L291.9,193.3 L292.3,193.4 L292.7,193.4 L293.1,193.4 L293.5,193.5 L294.0,193.5 L294.4,193.5 L294.8,193.6 L295.2,193.6 L295.6,193.6 L296.0,193.6 L296.4,193.6 L296.8,193.7 L297.2,193.7 L297.6,193.7 L298.0,193.7 L298.4,193.7 L298.8,193.8 L299.2,193.8 L299.6,193.8 L300.0,193.8" stroke-width="5.0" stroke-linecap="round" stroke-dasharray="14.00 19.40" stroke-dashoffset="17.64"/>
<path d="M300.0,193.8 L301.0,193.8 L301.9,193.8 L302.9,193.8 L303.9,193.8 L304.8,193.8 L305.8,193.8 L306.7,193.8 L307.6,193.8 L308.6,193.8 L309.5,193.8 L310.4,193.8 L311.3,193.8 L312.2,193.8 L313.1,193.8 L314.0,193.8 L314.9,193.8 L315.8,193.8 L316.7,193.8 L317.6,193.8 L318.5,193.8 L319.4,193.8 L320.2,193.8 L321.1,193.8 L322.0,193.8 L322.9,193.8 L323.7,193.8 L324.6,193.8 L325.5,193.8 L326.3,193.8 L327.2,193.8 L328.1,193.8 L328.9,193.8 L329.8,193.8 L330.6,193.8 L331.5,193.8 L332.4,193.8 L333.2,193.8 L334.1,193.8 L335.0,193.8 L335.8,193.8 L336.7,193.8 L337.6,193.8 L338.5,193.8 L339.3,193.8 L340.2,193.8 L341.1,193.8 L342.0,193.8 L342.9,193.7 L343.7,193.7 L344.6,193.7 L345.5,193.7 L346.4,193.7 L347.3,193.7 L348.2,193.7 L349.1,193.7 L350.1,193.7 L351.0,193.7 L351.9,193.6 L352.8,193.6 L353.8,193.6 L354.7,193.6 L355.7,193.6 L356.6,193.6 L357.6,193.5 L358.5,193.5 L359.5,193.5 L360.5,193.5 L361.5,193.5 L362.5,193.4 L363.5,193.4 L364.5,193.4 L365.5,193.4 L366.5,193.3 L367.5,193.3 L368.5,193.3 L369.6,193.3 L370.6,193.2 L371.6,193.2 L372.7,193.2 L373.7,193.1 L374.8,193.1 L375.8,193.1 L376.9,193.0 L377.9,193.0 L379.0,193.0 L380.1,192.9 L381.1,192.9 L382.2,192.9 L383.2,192.8 L384.3,192.8 L385.4,192.8 L386.4,192.7 L387.5,192.7 L388.6,192.7 L389.6,192.6 L390.7,192.6 L391.7,192.6 L392.8,192.5 L393.8,192.5 L394.9,192.5 L395.9,192.4 L397.0,192.4 L398.0,192.4 L399.1,192.3 L400.1,192.3 L401.1,192.3 L402.2,192.2 L403.2,192.2 L404.2,192.2 L405.2,192.1 L406.2,192.1 L407.2,192.1 L408.2,192.0 L409.2,192.0 L410.1,192.0 L411.1,192.0 L412.0,191.9 L413.0,191.9 L413.9,191.9 L414.8,191.9 L415.7,191.9 L416.6,191.8 L417.5,191.8 L418.3,191.8 L419.2,191.8 L420.0,191.8 L420.8,191.8 L421.6,191.8 L422.4,191.8 L423.2,191.8 L423.9,191.8 L424.6,191.8 L425.4,191.8 L426.0,191.8 L426.7,191.8 L427.4,191.8 L428.0,191.8 L428.6,191.8 L429.2,191.8 L429.7,191.8 L430.3,191.9 L430.8,191.9 L431.3,191.9 L431.8,191.9 L432.3,191.9 L432.7,191.9 L433.2,191.9 L433.6,191.8 L434.0,191.8 L434.4,191.7 L434.8,191.6 L435.2,191.6 L435.6,191.5 L435.9,191.3 L436.3,191.2 L436.6,191.0 L437.0,190.8 L437.3,190.6 L437.6,190.4 L437.9,190.2 L438.3,189.9 L438.6,189.6 L438.9,189.3 L439.2,189.0 L439.4,188.7 L439.7,188.3 L440.0,188.0 L440.3,187.6 L440.6,187.2 L440.8,186.8 L441.1,186.4 L441.3,186.0 L441.6,185.5 L441.9,185.0 L442.1,184.6 L442.4,184.1 L442.6,183.6 L442.9,183.1 L443.1,182.6 L443.3,182.0 L443.6,181.5 L443.8,181.0 L444.1,180.4 L444.3,179.9 L444.6,179.3 L444.8,178.7 L445.0,178.1 L445.3,177.5 L445.5,176.9 L445.8,176.3 L446.0,175.7 L446.3,175.1 L446.5,174.5 L446.8,173.9 L447.0,173.3 L447.3,172.7 L447.6,172.0 L447.8,171.4 L448.1,170.8 L448.3,170.1 L448.6,169.5 L448.9,168.9 L449.1,168.2 L449.4,167.6 L449.6,166.9 L449.9,166.3 L450.2,165.6 L450.4,165.0 L450.7,164.3 L450.9,163.7 L451.2,163.0 L451.4,162.4 L451.7,161.7 L451.9,161.1 L452.1,160.5 L452.4,159.8 L452.6,159.2 L452.8,158.5 L453.0,157.9 L453.3,157.2 L453.5,156.6 L453.7,156.0 L453.9,155.3 L454.1,154.7 L454.3,154.0 L454.5,153.4 L454.7,152.8 L454.9,152.1 L455.1,151.5 L455.3,150.8 L455.5,150.2 L455.7,149.6 L455.9,148.9 L456.1,148.3 L456.3,147.6 L456.5,147.0 L456.7,146.3 L456.9,145.7 L457.1,145.0 L457.3,144.4 L457.5,143.7 L457.7,143.1 L457.9,142.4 L458.1,141.7 L458.3,141.1 L458.5,140.4 L458.7,139.8 L458.9,139.1 L459.1,138.4 L459.4,137.8 L459.6,137.1 L459.8,136.5 L460.0,135.8 L460.2,135.2 L460.4,134.5 L460.7,133.9 L460.9,133.3 L461.1,132.6 L461.3,132.0 L461.5,131.4 L461.8,130.8 L462.0,130.2 L462.2,129.6 L462.4,129.0 L462.6,128.4 L462.9,127.9 L463.1,127.3 L463.3,126.8 L463.5,126.2 L463.7,125.7 L464.0,125.2 L464.2,124.7 L464.4,124.2 L464.6,123.7 L464.8,123.2 L465.1,122.7 L465.3,122.3 L465.5,121.8 L465.7,121.4 L465.9,121.0 L466.2,120.5 L466.4,120.1 L466.6,119.7 L466.8,119.3 L467.0,119.0 L467.2,118.6 L467.5,118.2 L467.7,117.9 L467.9,117.5 L468.1,117.2 L468.3,116.8 L468.5,116.5 L468.7,116.2 L469.0,115.9 L469.2,115.6 L469.4,115.3 L469.6,115.0 L469.8,114.8 L470.0,114.5" stroke-width="5.0" stroke-linecap="round" stroke-dasharray="14.00 19.40" stroke-dashoffset="31.20"/>
<path d="M470.0,114.5 L470.5,113.9 L471.1,113.3 L471.6,112.6 L472.1,112.0 L472.6,111.4 L473.0,110.8 L473.5,110.3 L473.9,109.7 L474.4,109.1 L474.8,108.5 L475.2,108.0 L475.6,107.4 L476.0,106.9 L476.4,106.3 L476.7,105.8 L477.1,105.3 L477.5,104.7 L477.8,104.2 L478.2,103.7 L478.5,103.2 L478.8,102.7 L479.2,102.2 L479.5,101.7 L479.9,101.2 L480.2,100.7 L480.5,100.3 L480.9,99.8 L481.2,99.3 L481.5,98.9 L481.9,98.4 L482.2,98.0 L482.5,97.5 L482.9,97.1 L483.3,96.7 L483.6,96.2 L484.0,95.8 L484.4,95.4 L484.7,95.0 L485.1,94.6 L485.5,94.2 L486.0,93.8 L486.4,93.4 L486.8,93.1 L487.3,92.7 L487.7,92.3 L488.2,92.0 L488.7,91.6 L489.2,91.2 L489.7,90.9 L490.2,90.6 L490.8,90.2 L491.3,89.9 L491.8,89.6 L492.4,89.3 L493.0,89.0 L493.5,88.7 L494.1,88.4 L494.7,88.1 L495.3,87.8 L495.9,87.6 L496.5,87.3 L497.1,87.1 L497.7,86.8 L498.3,86.6 L498.9,86.4 L499.5,86.2 L500.1,86.0 L500.7,85.8 L501.3,85.6 L501.9,85.4 L502.5,85.3 L503.1,85.1 L503.7,85.0 L504.3,84.9 L504.8,84.8 L505.4,84.6 L506.0,84.5 L506.6,84.4 L507.2,84.4 L507.8,84.3 L508.4,84.2 L509.0,84.2 L509.5,84.1 L510.1,84.1 L510.7,84.0 L511.3,84.0 L511.9,84.0 L512.4,84.0 L513.0,84.0 L513.6,84.0 L514.2,84.0 L514.7,84.0 L515.3,84.1 L515.9,84.1 L516.5,84.2 L517.0,84.2 L517.6,84.3 L518.2,84.3 L518.8,84.4 L519.4,84.5 L520.0,84.6 L520.6,84.7 L521.2,84.7 L521.8,84.9 L522.4,85.0 L523.0,85.1 L523.6,85.2 L524.2,85.3 L524.8,85.5 L525.5,85.6 L526.1,85.8 L526.8,85.9 L527.4,86.1 L528.1,86.2 L528.8,86.4 L529.4,86.6 L530.1,86.8 L530.8,87.0 L531.5,87.2 L532.2,87.4 L532.9,87.6 L533.7,87.8 L534.4,88.1 L535.1,88.3 L535.8,88.6 L536.6,88.9 L537.3,89.1 L538.1,89.4 L538.9,89.7 L539.6,90.1 L540.4,90.4 L541.2,90.7 L542.0,91.1 L542.8,91.4 L543.6,91.8 L544.4,92.2 L545.3,92.6 L546.1,93.0 L546.9,93.5 L547.8,93.9 L548.6,94.4 L549.4,94.9 L550.3,95.3 L551.2,95.8 L552.0,96.3 L552.9,96.8 L553.7,97.4 L554.6,97.9 L555.5,98.4 L556.4,99.0 L557.2,99.5 L558.1,100.1 L559.0,100.6 L559.8,101.2 L560.7,101.7 L561.6,102.3 L562.4,102.9 L563.3,103.5 L564.2,104.0 L565.0,104.6 L565.9,105.2 L566.7,105.8 L567.6,106.3 L568.4,106.9 L569.2,107.5 L570.0,108.0 L570.9,108.6 L571.7,109.2 L572.5,109.7 L573.3,110.3 L574.1,110.8 L574.8,111.4 L575.6,111.9 L576.4,112.4 L577.1,113.0 L577.8,113.5 L578.6,114.0 L579.3,114.5 L580.0,115.0 L580.7,115.5 L581.5,116.0 L582.2,116.5 L582.9,117.0 L583.6,117.5 L584.3,118.0 L585.0,118.4 L585.7,118.9 L586.4,119.4 L587.1,119.9 L587.7,120.4 L588.4,120.8 L589.2,121.3 L589.9,121.8 L590.6,122.3 L591.3,122.8 L592.0,123.3 L592.7,123.8 L593.4,124.3 L594.2,124.8 L594.9,125.3 L595.7,125.8 L596.4,126.3 L597.2,126.8 L598.0,127.3 L598.8,127.9 L599.6,128.4 L600.4,128.9 L601.2,129.5 L602.0,130.0 L602.9,130.6 L603.7,131.1 L604.5,131.7 L605.4,132.2 L606.3,132.8 L607.1,133.4 L608.0,133.9 L608.9,134.5 L609.8,135.1 L610.6,135.7 L611.5,136.2 L612.4,136.8 L613.3,137.4 L614.2,138.0 L615.1,138.5 L616.1,139.1 L617.0,139.7 L617.9,140.2 L618.8,140.8 L619.7,141.4 L620.6,141.9 L621.5,142.5 L622.4,143.0 L623.4,143.6 L624.3,144.1 L625.2,144.7 L626.1,145.2 L627.0,145.8 L627.9,146.3 L628.8,146.8 L629.7,147.3 L630.6,147.8 L631.5,148.3 L632.4,148.8 L633.2,149.3 L634.1,149.8 L635.0,150.3 L635.9,150.8 L636.8,151.2 L637.6,151.7 L638.5,152.2 L639.4,152.6 L640.2,153.1 L641.1,153.5 L641.9,154.0 L642.8,154.4 L643.7,154.8 L644.5,155.3 L645.4,155.7 L646.2,156.1 L647.1,156.5 L648.0,156.9 L648.8,157.4 L649.7,157.8 L650.5,158.2 L651.4,158.6 L652.3,159.0 L653.1,159.4 L654.0,159.8 L654.9,160.2 L655.7,160.6 L656.6,161.0 L657.5,161.4 L658.4,161.8 L659.2,162.2 L660.1,162.6 L661.0,162.9 L661.9,163.3 L662.8,163.7 L663.7,164.1 L664.6,164.5 L665.5,164.9 L666.4,165.3 L667.3,165.7 L668.2,166.1 L669.1,166.4 L670.0,166.8 L671.0,167.2 L671.9,167.6 L672.8,168.0 L673.7,168.3 L674.7,168.7 L675.6,169.1 L676.5,169.4 L677.4,169.8 L678.4,170.2 L679.3,170.5 L680.2,170.9 L681.2,171.3 L682.1,171.6 L683.0,172.0 L684.0,172.3 L684.9,172.6 L685.8,173.0 L686.8,173.3 L687.7,173.7 L688.7,174.0 L689.6,174.3 L690.5,174.6 L691.5,175.0 L692.4,175.3 L693.3,175.6 L694.3,175.9 L695.2,176.2 L696.1,176.5 L697.1,176.8 L698.0,177.1 L698.9,177.4 L699.9,177.6 L700.8,177.9 L701.7,178.2 L702.7,178.5 L703.6,178.7 L704.5,179.0 L705.5,179.2 L706.4,179.5 L707.3,179.7 L708.3,180.0 L709.2,180.2 L710.2,180.5 L711.1,180.7 L712.0,180.9 L713.0,181.2 L713.9,181.4 L714.9,181.6 L715.8,181.8 L716.7,182.1 L717.7,182.3 L718.6,182.5 L719.6,182.7 L720.5,182.9 L721.5,183.1 L722.5,183.3 L723.4,183.5 L724.4,183.7 L725.3,183.9 L726.3,184.0 L727.3,184.2 L728.2,184.4 L729.2,184.6 L730.2,184.8 L731.1,184.9 L732.1,185.1 L733.1,185.3 L734.0,185.4 L735.0,185.6 L735.9,185.7 L736.9,185.9 L737.8,186.0 L738.8,186.2 L739.7,186.3 L740.7,186.4 L741.6,186.6 L742.5,186.7 L743.5,186.8 L744.4,187.0 L745.3,187.1 L746.2,187.2 L747.1,187.3 L747.9,187.4 L748.8,187.5 L749.7,187.6 L750.5,187.7 L751.4,187.8 L752.2,187.9 L753.0,188.0 L753.8,188.1 L754.6,188.2 L755.4,188.2 L756.2,188.3 L756.9,188.4 L757.7,188.5 L758.4,188.5 L759.1,188.6 L759.8,188.6 L760.5,188.7 L761.1,188.7 L761.8,188.8 L762.4,188.8 L763.0,188.8 L763.6,188.9 L764.2,188.9 L764.7,188.9 L765.3,189.0 L765.8,189.0 L766.3,189.0 L766.7,189.0 L767.2,189.0 L767.6,189.0 L768.0,189.0" stroke-width="5.0" stroke-linecap="round" stroke-dasharray="12.80 20.60" stroke-dashoffset="17.33"/>
<path d="M88.9,553.0 L89.0,551.5 L89.1,549.9 L89.3,548.3 L89.4,546.6 L89.5,544.9 L89.6,543.1 L89.8,541.3 L89.9,539.4 L90.0,537.5 L90.1,535.6 L90.2,533.6 L90.4,531.6 L90.5,529.5 L90.6,527.4 L90.7,525.3 L90.8,523.1 L91.0,520.9 L91.1,518.7 L91.2,516.4 L91.3,514.1 L91.4,511.8 L91.6,509.4 L91.7,507.0 L91.8,504.6 L91.9,502.2 L92.0,499.7 L92.2,497.2 L92.3,494.7 L92.4,492.2 L92.5,489.6 L92.6,487.0 L92.8,484.5 L92.9,481.8 L93.0,479.2 L93.1,476.6 L93.2,473.9 L93.3,471.3 L93.4,468.6 L93.6,465.9 L93.7,463.2 L93.8,460.5 L93.9,457.8 L94.0,455.1 L94.1,452.4 L94.2,449.7 L94.3,446.9 L94.4,444.2 L94.6,441.5 L94.7,438.8 L94.8,436.0 L94.9,433.3 L95.0,430.6 L95.1,427.9 L95.2,425.2 L95.3,422.5 L95.4,419.8 L95.5,417.1 L95.6,414.4 L95.7,411.8 L95.8,409.1 L95.9,406.5 L96.0,403.9 L96.1,401.3 L96.2,398.7 L96.3,396.2 L96.4,393.6 L96.5,391.1 L96.6,388.6 L96.6,386.1 L96.7,383.7 L96.8,381.2 L96.9,378.8 L97.0,376.4 L97.1,374.0 L97.2,371.6 L97.3,369.3 L97.3,366.9 L97.4,364.6 L97.5,362.2 L97.6,359.9 L97.7,357.6 L97.8,355.3 L97.9,352.9 L97.9,350.6 L98.0,348.3 L98.1,346.0 L98.2,343.7 L98.3,341.3 L98.4,339.0 L98.5,336.7 L98.6,334.3 L98.6,332.0 L98.7,329.6 L98.8,327.2 L98.9,324.8 L99.0,322.4 L99.1,320.0 L99.2,317.6 L99.3,315.1 L99.4,312.6 L99.5,310.2 L99.6,307.6 L99.7,305.1 L99.8,302.5 L99.9,299.9 L100.0,297.3 L100.1,294.7 L100.2,292.1 L100.3,289.4 L100.5,286.8 L100.6,284.1 L100.7,281.4 L100.8,278.7 L100.9,276.0 L101.0,273.3 L101.1,270.6 L101.2,267.9 L101.4,265.1 L101.5,262.4 L101.6,259.7 L101.7,257.0 L101.8,254.2 L101.9,251.5 L102.1,248.8 L102.2,246.1 L102.3,243.3 L102.4,240.6 L102.5,237.9 L102.6,235.2 L102.7,232.6 L102.9,229.9 L103.0,227.2 L103.1,224.6 L103.2,222.0 L103.3,219.4 L103.4,216.8 L103.5,214.2 L103.6,211.7 L103.7,209.1 L103.8,206.6 L103.9,204.1 L104.0,201.7 L104.1,199.2 L104.2,196.8 L104.3,194.4 L104.4,192.0 L104.5,189.6 L104.6,187.3 L104.7,185.0 L104.8,182.7 L104.9,180.4 L105.0,178.1 L105.1,175.9 L105.2,173.6 L105.3,171.4 L105.4,169.2 L105.4,167.0 L105.5,164.9 L105.6,162.7 L105.7,160.6 L105.8,158.5 L105.9,156.4 L105.9,154.3 L106.0,152.3 L106.1,150.2 L106.2,148.2 L106.3,146.2 L106.3,144.2 L106.4,142.2 L106.5,140.2 L106.6,138.2 L106.6,136.3 L106.7,134.4 L106.8,132.5 L106.9,130.6 L106.9,128.7 L107.0,126.8 L107.1,125.0 L107.2,123.1 L107.2,121.3 L107.3,119.5 L107.4,117.8 L107.4,116.0 L107.5,114.3 L107.6,112.6 L107.7,110.9 L107.7,109.3 L107.8,107.6 L107.9,106.0 L107.9,104.4 L108.0,102.9 L108.1,101.4 L108.2,99.9 L108.3,98.4 L108.3,96.9 L108.4,95.5 L108.5,94.1 L108.6,92.8 L108.7,91.4 L108.7,90.1 L108.8,88.8 L108.9,87.5 L109.0,86.3 L109.1,85.0 L109.2,83.8 L109.3,82.6 L109.4,81.4 L109.5,80.2 L109.6,79.0 L109.7,77.9 L109.8,76.7 L109.9,75.5 L110.1,74.4 L110.2,73.2 L110.3,72.1 L110.5,70.9 L110.6,69.8 L110.7,68.6 L110.9,67.5 L111.0,66.4 L111.2,65.3 L111.3,64.2 L111.4,63.1 L111.6,62.0 L111.7,60.9 L111.9,59.8 L112.0,58.8 L112.2,57.7 L112.3,56.7 L112.4,55.7 L112.6,54.7 L112.7,53.7 L112.9,52.7 L113.0,51.8 L113.1,50.8 L113.3,49.9 L113.4,49.0 L113.5,48.1 L113.7,47.2 L113.8,46.3 L113.9,45.5 L114.1,44.7 L114.2,43.9 L114.3,43.1 L114.5,42.3 L114.6,41.6 L114.8,40.8 L115.0,40.1 L115.2,39.4 L115.4,38.7 L115.7,38.1 L115.9,37.4 L116.2,36.8 L116.6,36.2 L116.9,35.6 L117.3,35.1 L117.6,34.7 L118.0,34.4 L118.4,34.3 L118.8,34.2 L119.2,34.3 L119.6,34.5 L120.0,34.9 L120.3,35.3 L120.7,35.8 L121.0,36.4 L121.4,37.0 L121.6,37.6 L121.9,38.3 L122.2,38.9 L122.4,39.6 L122.7,40.3 L122.9,41.0 L123.1,41.7 L123.3,42.5 L123.5,43.2 L123.7,44.0 L124.0,44.9 L124.2,45.7 L124.4,46.6 L124.7,47.4 L125.0,48.3 L125.2,49.3 L125.5,50.2 L125.8,51.1 L126.0,52.1 L126.3,53.0 L126.6,54.0 L126.8,54.9 L127.1,55.9 L127.3,56.8 L127.6,57.8 L127.8,58.7 L128.0,59.6 L128.2,60.5 L128.4,61.4 L128.6,62.3 L128.8,63.2 L129.0,64.2 L129.2,65.1 L129.3,66.0 L129.5,66.9 L129.7,67.8 L129.8,68.7 L130.0,69.6 L130.2,70.5 L130.4,71.5 L130.6,72.4 L130.7,73.4 L130.9,74.3 L131.1,75.3 L131.3,76.3 L131.5,77.3 L131.7,78.2 L131.9,79.2 L132.1,80.2 L132.2,81.2 L132.4,82.2 L132.6,83.2 L132.8,84.2 L133.0,85.2 L133.2,86.2 L133.4,87.2 L133.6,88.2 L133.8,89.2 L134.0,90.2 L134.3,91.2 L134.5,92.2 L134.7,93.2 L134.9,94.2 L135.1,95.2 L135.3,96.2 L135.5,97.2 L135.8,98.2 L136.0,99.2 L136.2,100.2 L136.4,101.2 L136.7,102.2 L136.9,103.2 L137.1,104.2 L137.4,105.2 L137.6,106.2 L137.9,107.2 L138.1,108.1 L138.4,109.1 L138.6,110.1 L138.9,111.0 L139.1,111.9 L139.4,112.9 L139.6,113.8 L139.9,114.7 L140.2,115.6 L140.5,116.5 L140.7,117.4 L141.0,118.4 L141.3,119.3 L141.6,120.2 L141.9,121.1 L142.2,122.0 L142.5,123.0 L142.8,123.9 L143.1,124.8 L143.4,125.8 L143.7,126.8 L144.0,127.7 L144.3,128.7 L144.6,129.7 L145.0,130.7 L145.3,131.7 L145.6,132.7 L146.0,133.7 L146.3,134.7 L146.7,135.7 L147.0,136.7 L147.4,137.7 L147.8,138.7 L148.1,139.7 L148.5,140.7 L148.9,141.7 L149.3,142.6 L149.7,143.6 L150.1,144.6 L150.5,145.6 L150.9,146.5 L151.4,147.5 L151.8,148.5 L152.2,149.4 L152.7,150.4 L153.2,151.3 L153.6,152.3 L154.1,153.2 L154.6,154.2 L155.1,155.1 L155.6,156.1 L156.1,157.0 L156.7,157.9 L157.2,158.8 L157.8,159.7 L158.3,160.6 L158.9,161.5 L159.4,162.3 L160.0,163.2 L160.6,164.0 L161.2,164.8 L161.8,165.5 L162.4,166.3 L163.0,167.0 L163.6,167.7 L164.2,168.4 L164.9,169.0 L165.5,169.6 L166.1,170.3 L166.8,170.9 L167.4,171.5 L168.1,172.1 L168.7,172.6 L169.4,173.2 L170.0,173.8 L170.7,174.4 L171.3,175.0 L172.0,175.5 L172.7,176.1 L173.3,176.7 L174.0,177.2 L174.7,177.8 L175.4,178.3 L176.0,178.8 L176.7,179.3 L177.4,179.8 L178.1,180.2 L178.8,180.7 L179.5,181.1 L180.2,181.5 L180.9,181.9 L181.6,182.2 L182.3,182.6 L183.0,182.9 L183.8,183.2 L184.5,183.6 L185.2,183.9 L185.9,184.2 L186.6,184.5 L187.4,184.8 L188.1,185.1 L188.8,185.4 L189.5,185.7 L190.3,186.0 L191.0,186.3 L191.7,186.6 L192.4,186.8 L193.2,187.1 L193.9,187.4 L194.6,187.7 L195.4,187.9 L196.1,188.2 L196.8,188.4 L197.5,188.6 L198.3,188.9 L199.0,189.1 L199.8,189.3 L200.5,189.5 L201.2,189.7 L202.0,189.9 L202.7,190.1 L203.5,190.3 L204.2,190.5 L205.0,190.7 L205.7,190.9 L206.5,191.0 L207.3,191.2 L208.0,191.4 L208.7,191.5 L209.5,191.6 L210.2,191.8 L210.9,191.9 L211.7,192.0 L212.4,192.2 L213.1,192.3 L213.8,192.4 L214.6,192.5 L215.3,192.6 L216.1,192.8 L216.8,192.9 L217.6,193.0 L218.5,193.1 L219.3,193.3 L220.2,193.4 L221.0,193.5 L221.9,193.6 L222.8,193.8 L223.7,193.9 L224.6,194.0 L225.6,194.2 L226.5,194.3 L227.4,194.4 L228.2,194.5 L229.1,194.6 L230.0,194.6 L230.8,194.7 L231.6,194.8 L232.5,194.8 L233.3,194.9 L234.1,194.9 L234.9,194.9 L235.8,194.9 L236.6,195.0 L237.5,195.0 L238.4,195.0 L239.4,195.0 L240.4,195.0 L241.4,195.0 L242.5,195.0 L243.6,195.0 L244.7,195.0 L245.8,195.0 L247.0,195.0 L248.2,195.1 L249.4,195.1 L250.6,195.1 L251.9,195.1 L253.1,195.1 L254.4,195.0 L255.7,195.0 L256.9,195.0 L258.2,195.0 L259.5,195.0 L260.7,195.0 L262.0,195.0 L263.2,194.9 L264.4,194.9 L265.6,194.9 L266.9,194.9 L268.1,194.8 L269.2,194.8 L270.4,194.8 L271.6,194.7 L272.8,194.7 L274.0,194.6 L275.1,194.6 L276.3,194.6 L277.4,194.5 L278.6,194.5 L279.7,194.4 L280.9,194.4 L282.0,194.3 L283.1,194.3 L284.3,194.2 L285.4,194.1 L286.6,194.1 L287.7,194.0 L288.9,194.0 L290.0,193.9 L291.2,193.9 L292.4,193.8 L293.6,193.8 L294.8,193.7 L296.1,193.7 L297.3,193.7 L298.6,193.6 L299.9,193.6 L301.3,193.6 L302.6,193.5 L304.0,193.5 L305.4,193.5 L306.8,193.5 L308.3,193.5 L309.7,193.5 L311.2,193.5 L312.6,193.5 L314.1,193.5 L315.6,193.4 L317.1,193.4 L318.6,193.4 L320.1,193.4 L321.6,193.4 L323.1,193.4 L324.6,193.4 L326.1,193.4 L327.6,193.4 L329.1,193.4 L330.5,193.4 L332.0,193.4 L333.4,193.4 L334.9,193.4 L336.3,193.3 L337.7,193.3 L339.2,193.3 L340.6,193.3 L342.0,193.2 L343.4,193.2 L344.9,193.2 L346.3,193.2 L347.7,193.1 L349.2,193.1 L350.6,193.1 L352.1,193.0 L353.6,193.0 L355.1,192.9 L356.6,192.9 L358.1,192.9 L359.7,192.8 L361.2,192.8 L362.8,192.7 L364.4,192.7 L366.1,192.6 L367.7,192.6 L369.4,192.5 L371.0,192.4 L372.7,192.4 L374.4,192.3 L376.1,192.3 L377.8,192.2 L379.5,192.2 L381.2,192.1 L382.9,192.0 L384.7,192.0 L386.4,191.9 L388.1,191.9 L389.8,191.8 L391.6,191.8 L393.3,191.7 L395.0,191.7 L396.7,191.6 L398.4,191.5 L400.0,191.5 L401.7,191.5 L403.4,191.4 L405.0,191.4 L406.6,191.3 L408.2,191.3 L409.8,191.2 L411.3,191.2 L412.8,191.2 L414.3,191.2 L415.8,191.1 L417.2,191.1 L418.6,191.1 L420.0,191.1 L421.3,191.1 L422.5,191.1 L423.8,191.1 L424.9,191.1 L426.1,191.1 L427.1,191.2 L428.1,191.2 L429.1,191.2 L430.0,191.3 L430.9,191.3 L431.7,191.3 L432.4,191.3 L433.2,191.3 L433.8,191.3 L434.5,191.2 L435.1,191.1 L435.7,190.9 L436.3,190.7 L436.8,190.4 L437.3,190.1 L437.9,189.7 L438.3,189.2 L438.8,188.8 L439.3,188.2 L439.7,187.7 L440.1,187.1 L440.6,186.4 L441.0,185.7 L441.4,185.0 L441.8,184.3 L442.2,183.5 L442.6,182.7 L442.9,181.8 L443.3,181.0 L443.7,180.1 L444.1,179.2 L444.5,178.2 L444.9,177.3 L445.3,176.3 L445.7,175.4 L446.1,174.4 L446.5,173.4 L446.9,172.4 L447.3,171.4 L447.7,170.4 L448.2,169.3 L448.6,168.3 L449.0,167.3 L449.4,166.2 L449.8,165.2 L450.2,164.1 L450.6,163.1 L451.0,162.0 L451.4,161.0 L451.8,159.9 L452.2,158.9 L452.6,157.9 L452.9,156.8 L453.3,155.8 L453.6,154.8 L454.0,153.7 L454.3,152.7 L454.6,151.7 L455.0,150.6 L455.3,149.6 L455.6,148.6 L455.9,147.5 L456.2,146.5 L456.5,145.4 L456.8,144.4 L457.2,143.3 L457.5,142.3 L457.8,141.2 L458.1,140.1 L458.4,139.1 L458.8,138.0 L459.1,136.9 L459.4,135.9 L459.8,134.8 L460.1,133.8 L460.5,132.8 L460.8,131.8 L461.2,130.8 L461.6,129.8 L462.0,128.8 L462.3,127.9 L462.7,127.0 L463.1,126.1 L463.5,125.2 L464.0,124.4 L464.4,123.5 L464.8,122.7 L465.3,121.9 L465.7,121.2 L466.2,120.4 L466.7,119.7 L467.1,119.0 L467.6,118.3 L468.1,117.6 L468.6,116.9 L469.1,116.3 L469.7,115.7 L470.2,115.0 L470.7,114.4 L471.3,113.9 L471.8,113.3 L472.4,112.7 L473.0,112.2 L473.6,111.7 L474.3,111.2 L474.9,110.8 L475.6,110.3 L476.3,109.9 L477.0,109.5 L477.7,109.2 L478.4,108.8 L479.1,108.5 L479.9,108.2 L480.6,107.9 L481.4,107.7 L482.1,107.4 L482.8,107.2 L483.6,107.1 L484.3,106.9 L485.1,106.8 L485.8,106.7 L486.5,106.6 L487.3,106.5 L488.0,106.4 L488.8,106.4 L489.6,106.4 L490.3,106.4 L491.1,106.4 L491.9,106.5 L492.7,106.5 L493.6,106.6 L494.4,106.7 L495.2,106.8 L496.0,106.9 L496.9,107.0 L497.7,107.2 L498.6,107.4 L499.4,107.6 L500.2,107.8 L501.1,108.0 L501.9,108.3 L502.7,108.5 L503.5,108.8 L504.3,109.1 L505.1,109.4 L505.9,109.7 L506.7,110.1 L507.5,110.4 L508.3,110.8 L509.0,111.2 L509.8,111.5 L510.5,111.9 L511.3,112.3 L512.0,112.7 L512.7,113.1 L513.5,113.6 L514.2,114.0 L515.0,114.4 L515.7,114.9 L516.5,115.4 L517.3,115.9 L518.1,116.4 L518.9,116.9 L519.7,117.5 L520.6,118.0 L521.5,118.6 L522.4,119.2 L523.3,119.8 L524.3,120.4 L525.3,121.1 L526.3,121.7 L527.3,122.4 L528.3,123.1 L529.4,123.8 L530.5,124.5 L531.6,125.2 L532.7,125.9 L533.8,126.7 L535.0,127.4 L536.2,128.2 L537.3,128.9 L538.6,129.7 L539.8,130.4 L541.0,131.2 L542.3,132.0 L543.5,132.7 L544.8,133.5 L546.1,134.3 L547.3,135.0 L548.6,135.8 L549.9,136.6 L551.2,137.3 L552.4,138.1 L553.7,138.8 L554.9,139.5 L556.1,140.3 L557.4,141.0 L558.6,141.7 L559.7,142.4 L560.9,143.1 L562.0,143.7 L563.1,144.4 L564.2,145.0 L565.3,145.6 L566.3,146.2 L567.4,146.8 L568.4,147.4 L569.4,148.0 L570.4,148.6 L571.4,149.2 L572.4,149.7 L573.4,150.3 L574.4,150.8 L575.5,151.4 L576.5,151.9 L577.6,152.5 L578.6,153.1 L579.7,153.6 L580.9,154.2 L582.0,154.8 L583.2,155.3 L584.4,155.9 L585.6,156.5 L586.8,157.1 L588.1,157.7 L589.3,158.2 L590.6,158.8 L591.9,159.4 L593.2,160.0 L594.5,160.6 L595.8,161.1 L597.2,161.7 L598.5,162.3 L599.8,162.9 L601.1,163.4 L602.5,164.0 L603.8,164.5 L605.1,165.0 L606.4,165.6 L607.7,166.1 L609.1,166.6 L610.4,167.1 L611.7,167.6 L612.9,168.1 L614.2,168.6 L615.5,169.1 L616.8,169.5 L618.1,170.0 L619.4,170.4 L620.7,170.9 L622.0,171.3 L623.2,171.7 L624.5,172.1 L625.8,172.5 L627.1,172.9 L628.4,173.3 L629.7,173.7 L631.0,174.0 L632.3,174.4 L633.6,174.7 L634.9,175.1 L636.2,175.4 L637.5,175.7 L638.8,176.0 L640.1,176.4 L641.4,176.7 L642.8,177.0 L644.1,177.2 L645.4,177.5 L646.7,177.8 L648.0,178.1 L649.3,178.4 L650.7,178.6 L652.0,178.9 L653.3,179.2 L654.6,179.4 L656.0,179.7 L657.3,179.9 L658.6,180.2 L659.9,180.4 L661.2,180.7 L662.5,180.9 L663.9,181.2 L665.2,181.4 L666.5,181.6 L667.8,181.9 L669.1,182.1 L670.5,182.3 L671.8,182.5 L673.1,182.7 L674.4,182.9 L675.8,183.1 L677.1,183.3 L678.4,183.5 L679.7,183.7 L681.1,183.9 L682.4,184.1 L683.7,184.2 L685.1,184.4 L686.4,184.5 L687.7,184.7 L689.1,184.8 L690.4,185.0 L691.7,185.1 L693.1,185.3 L694.4,185.4 L695.7,185.5 L697.0,185.6 L698.4,185.7 L699.7,185.8 L701.0,186.0 L702.3,186.1 L703.6,186.2 L705.0,186.2 L706.3,186.3 L707.6,186.4 L708.9,186.5 L710.2,186.6 L711.5,186.7 L712.8,186.7 L714.1,186.8 L715.4,186.9 L716.7,187.0 L718.0,187.0 L719.3,187.1 L720.7,187.1 L722.0,187.2 L723.4,187.3 L724.7,187.3 L726.1,187.4 L727.4,187.4 L728.8,187.5 L730.2,187.5 L731.6,187.6 L733.1,187.6 L734.5,187.6 L736.0,187.7 L737.4,187.7 L738.9,187.7 L740.5,187.8 L742.0,187.8 L743.5,187.8 L745.1,187.9 L746.7,187.9 L748.3,187.9 L750.0,188.0 L751.7,188.0 L753.4,188.0 L755.1,188.1 L756.8,188.1 L758.6,188.1 L760.4,188.1 L762.3,188.2 L764.2,188.2 L766.1,188.2 L768.0,188.2" stroke-width="5" stroke-linecap="round"/>
</g>
<!-- legend -->
<rect x="595.8" y="326.3" width="171" height="99.2" fill="#fff" stroke="#222" stroke-width="1.2"/>
<g fill="none" stroke="#000">
<line x1="604.6" y1="345" x2="647.2" y2="345" stroke-width="4.8" stroke-linecap="round"/>
<line x1="604" y1="376.6" x2="648" y2="376.6" stroke-width="3.8" stroke-linecap="round" stroke-dasharray="0.01 8.35"/>
<line x1="604.7" y1="408.4" x2="615.8" y2="408.4" stroke-width="5" stroke-linecap="round"/>
<line x1="638" y1="408.4" x2="647" y2="408.4" stroke-width="5" stroke-linecap="round"/>
</g>
<text class="cjk" transform="translate(657.4,353.8) scale(1,0.93)" font-size="21.8" letter-spacing="2.1" style="font-weight:400">改进</text>
<text transform="translate(710.1,355.6) scale(0.9,1)" font-size="24.2">PSO</text>
<text transform="translate(657.2,388.1) scale(0.9,1)" font-size="24.2">PSO</text>
<text transform="translate(656.8,420.1) scale(0.9,1)" font-size="24.2">GA</text>
</svg>
</body>
</html>
